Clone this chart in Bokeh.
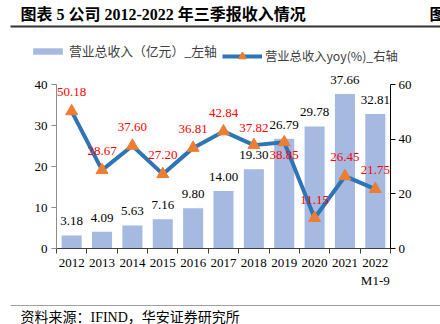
from bokeh.plotting import figure
from bokeh.layouts import column, row
from bokeh.models import (Range1d, LinearAxis, FixedTicker, ColumnDataSource, Label,
                          BoxAnnotation, Legend, LegendItem, LabelSet)
from bokeh.embed import file_html
from bokeh.resources import INLINE
from bokeh.core.properties import value

# ---- data ----
years = ["2012", "2013", "2014", "2015", "2016", "2017", "2018", "2019", "2020", "2021", "2022\nM1-9"]
revenue = [3.18, 4.09, 5.63, 7.16, 9.80, 14.00, 19.30, 26.79, 29.78, 37.66, 32.81]
yoy = [50.18, 28.67, 37.60, 27.20, 36.81, 42.84, 37.82, 38.85, 11.15, 26.45, 21.75]
left_ticks = [0, 10, 20, 30, 40]
right_ticks = [0, 20, 40, 60]
title_text = "图表 5 公司 2012-2022 年三季报收入情况"
source_text = "资料来源：IFIND，华安证券研究所"
bar_name = "营业总收入（亿元）_左轴"
line_name = "营业总收入yoy(%)_右轴"

# label vertical offsets (style): positive = above point
yoy_label_dy = [19, 19, 19, 19, 19, 18, 17, 19, 18, 19, 19]
yoy_label_dy[7] = -13

SERIF = "Liberation Serif, Noto Sans CJK SC"
CJK = "Noto Sans CJK SC"
BAR_C = "#a5b9e1"
LINE_C = "#2e75b6"
MARK_C = "#ed7d31"

W = 440
HEAD_H, MAIN_H, FOOT_H = 70, 225, 29
FL, FR = 56, 390          # frame left / right (px)
PLOT_TOP, PLOT_BOT = 84, 248  # pixel rows of axis top / zero line (absolute)

xs = list(range(len(years)))
src = ColumnDataSource(dict(
    x=xs, rev=revenue, yoy=yoy,
    rev_txt=[f"{v:.2f}" for v in revenue],
    yoy_txt=[f"{v:.2f}" for v in yoy],
    dy=yoy_label_dy,
))


def bare_fig(h):
    f = figure(width=W, height=h, x_range=Range1d(0, W), y_range=Range1d(0, h),
               x_axis_type=None, y_axis_type=None, output_backend="svg",
               toolbar_location=None, min_border=0,
               min_border_left=0, min_border_right=0, min_border_top=0, min_border_bottom=0)
    f.outline_line_color = None
    f.background_fill_color = "white"
    f.border_fill_color = "white"
    return f

# ---------------- header ----------------
hd = bare_fig(HEAD_H)
hd.add_layout(Label(x=20, y=HEAD_H - 14, text=title_text,
                    text_font=SERIF, text_font_style="bold", text_font_size="16px",
                    text_baseline="middle", text_color="black"))
hd.add_layout(Label(x=429, y=HEAD_H - 14, text="图",
                    text_font=SERIF, text_font_style="bold", text_font_size="16px",
                    text_baseline="middle", text_color="black"))
hd.add_layout(BoxAnnotation(left=10, right=W, top=HEAD_H - 25, bottom=HEAD_H - 27,
                            fill_color="#333333", fill_alpha=1, line_color=None))
# legend renderers: same data, drawn on an off-canvas range so only the legend shows
hd.extra_x_ranges = {"legend": Range1d(-1000, -999)}
pbar = hd.vbar(x="x", top="rev", width=0.66, source=src, x_range_name="legend",
               fill_color=BAR_C, line_color=None)
pline = hd.line(x="x", y="yoy", source=src, x_range_name="legend",
                line_color=LINE_C, line_width=4)
pmark = hd.scatter(x="x", y="yoy", source=src, x_range_name="legend", marker="triangle",
                   fill_color=MARK_C, line_color=MARK_C)
lg1 = Legend(items=[LegendItem(label=bar_name, renderers=[pbar])],
             location=(29, HEAD_H - 60), glyph_width=37, glyph_height=8, label_height=8,
             label_standoff=3, padding=0, margin=0, spacing=0,
             border_line_alpha=0, background_fill_alpha=0,
             label_text_font=CJK, label_text_font_size="12.8px", label_text_color="#404040")
lg2 = Legend(items=[LegendItem(label=line_name, renderers=[pline, pmark])],
             location=(222, HEAD_H - 66), glyph_width=40, glyph_height=20, label_height=20,
             label_standoff=3, padding=0, margin=0, spacing=0,
             border_line_alpha=0, background_fill_alpha=0,
             label_text_font=CJK, label_text_font_size="12.3px", label_text_color="#404040")
hd.add_layout(lg1)
hd.add_layout(lg2)

# ---------------- main chart ----------------
frame_h = PLOT_BOT - HEAD_H
axis_h = PLOT_BOT - PLOT_TOP

p = figure(width=W, height=MAIN_H, x_range=Range1d(-0.5, len(years) - 0.5),
           y_range=Range1d(left_ticks[0], left_ticks[-1] * frame_h / axis_h),
           output_backend="svg", toolbar_location=None,
           min_border_left=FL, min_border_right=W - FR,
           min_border_top=0, min_border_bottom=MAIN_H - frame_h)
p.outline_line_color = None
p.xgrid.visible = False
p.ygrid.visible = False
p.background_fill_color = "white"
p.border_fill_color = "white"

p.extra_y_ranges = {"right": Range1d(right_ticks[0], right_ticks[-1] * frame_h / axis_h)}

bars = p.vbar(x="x", top="rev", width=0.66, source=src, fill_color=BAR_C, line_color=None)
line = p.line(x="x", y="yoy", source=src, y_range_name="right", line_color=LINE_C, line_width=4)
marks = p.scatter(x="x", y="yoy", source=src, y_range_name="right", marker="triangle",
                  size=12, fill_color=MARK_C, line_color=MARK_C)

xa = p.xaxis[0]
xa.ticker = FixedTicker(ticks=xs, minor_ticks=[i - 0.5 for i in range(len(years) + 1)])
xa.major_label_overrides = {i: years[i] for i in xs}
xa.major_tick_out = 0
xa.major_tick_in = 0
xa.minor_tick_out = 5
xa.minor_tick_in = 0
xa.minor_tick_line_color = "#404040"
xa.axis_line_color = "#404040"
xa.major_label_standoff = 1
xa.major_label_text_font = SERIF
xa.major_label_text_font_size = "13px"
xa.major_label_text_color = "black"

ya = p.yaxis[0]
ya.ticker = FixedTicker(ticks=left_ticks)
ya.bounds = (left_ticks[0], left_ticks[-1])
ya.minor_tick_line_color = None
ya.major_tick_out = 5
ya.major_tick_in = 0
ya.axis_line_color = "#8c8c8c"
ya.major_tick_line_color = "#8c8c8c"
ya.major_label_standoff = 4
ya.major_label_text_font = SERIF
ya.major_label_text_font_size = "13px"
ya.major_label_text_color = "black"

ra = LinearAxis(y_range_name="right", ticker=FixedTicker(ticks=right_ticks),
                bounds=(right_ticks[0], right_ticks[-1]))
ra.minor_tick_line_color = None
ra.major_tick_out = 5
ra.major_tick_in = 0
ra.axis_line_color = "black"
ra.major_tick_line_color = "black"
ra.major_label_standoff = 3
ra.major_label_text_font = SERIF
ra.major_label_text_font_size = "13px"
ra.major_label_text_color = "black"
p.add_layout(ra, "right")

p.add_layout(LabelSet(x="x", y="rev", text="rev_txt", source=src, y_offset=14,
                      text_align="center", text_baseline="middle",
                      text_font=value(SERIF), text_font_size=value("13px"), text_color="black"))
p.add_layout(LabelSet(x="x", y="yoy", text="yoy_txt", source=src, y_range_name="right",
                      y_offset="dy", text_align="center", text_baseline="middle",
                      text_font=value(SERIF), text_font_size=value("13px"), text_color="#ff0000"))

# ---------------- footer ----------------
ft = bare_fig(FOOT_H)
ft.add_layout(BoxAnnotation(left=10, right=W, top=FOOT_H - 9.5, bottom=FOOT_H - 10.5,
                            fill_color="#a0a0a0", fill_alpha=1, line_color=None))
ft.add_layout(Label(x=20, y=FOOT_H - 21.5, text=source_text,
                    text_font=SERIF, text_font_size="14px",
                    text_baseline="middle", text_color="black"))

open("out.html", "w").write(file_html(column(row(hd), row(p), row(ft), spacing=0), INLINE))
